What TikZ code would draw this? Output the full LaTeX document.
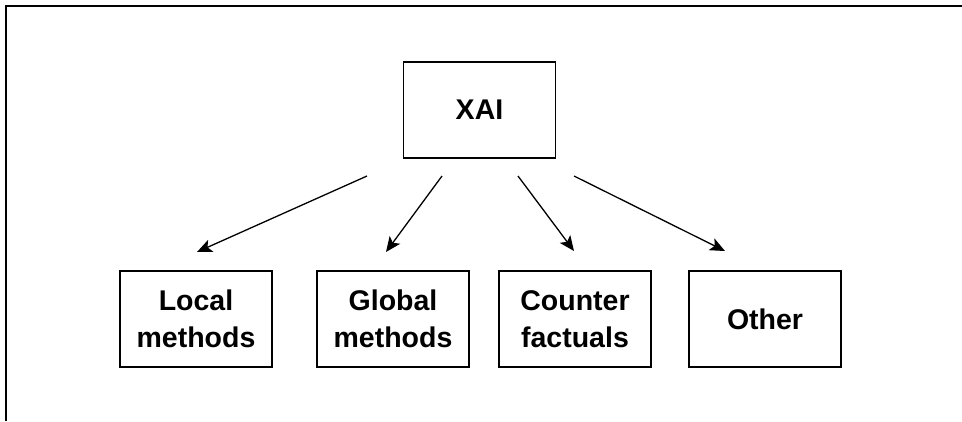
\documentclass[tikz,border=0pt]{standalone}
\usepackage{fontspec}
\setmainfont{Liberation Sans}
\usetikzlibrary{arrows.meta}
\begin{document}
\begin{tikzpicture}[x=1pt,y=-1pt,
  box/.style={draw, line width=1.6pt, minimum width=152pt, minimum height=96pt,
    inner sep=0pt, align=center, font=\fontsize{28.5}{37}\selectfont\bfseries},
  arr/.style={line width=1.3pt, -{Stealth[length=15pt,width=13pt,inset=3.5pt]}},
  frame/.style={line width=1.8pt}]
\useasboundingbox (0,0) rectangle (962,421);
\draw[frame] (6,421) -- (6,6) -- (962,6);
\node[box] (xai) at (479.5,110) {XAI};
\node[box] (local) at (196,319) {Local\\methods};
\node[box] (global) at (393,319) {Global\\methods};
\node[box] (counter) at (575,319) {Counter\\factuals};
\node[box] (other) at (765,319) {Other};
\coordinate (a1s) at (367,176); \coordinate (a1e) at (197,252);
\coordinate (a2s) at (442,176); \coordinate (a2e) at (386,252);
\coordinate (a3s) at (518,176); \coordinate (a3e) at (574,251);
\coordinate (a4s) at (574,176); \coordinate (a4e) at (725,251);
\draw[arr] (a1s) -- (a1e);
\draw[arr] (a2s) -- (a2e);
\draw[arr] (a3s) -- (a3e);
\draw[arr] (a4s) -- (a4e);
\end{tikzpicture}
\end{document}
